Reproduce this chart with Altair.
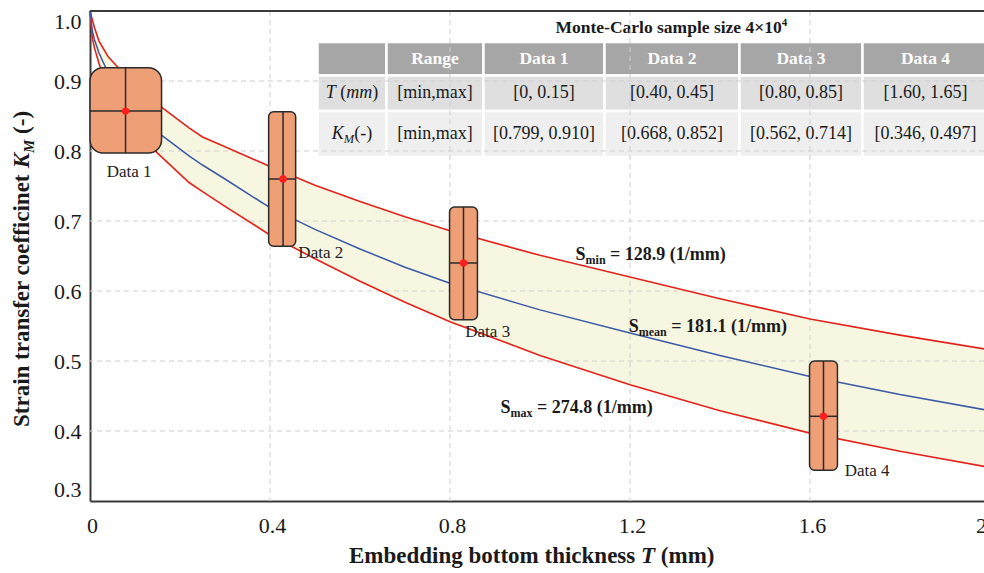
import altair as alt
import pandas as pd

# ---------------- data ----------------
T_grid = [0.0, 0.005, 0.01, 0.02, 0.04, 0.07, 0.10, 0.15, 0.22, 0.25, 0.30, 0.40,
          0.50, 0.60, 0.70, 0.80, 1.00, 1.20, 1.40, 1.60, 1.80, 2.00]
K_smin = [1.000, 0.988, 0.976, 0.957, 0.935, 0.914, 0.897, 0.867, 0.833, 0.820, 0.806, 0.778,
          0.751, 0.728, 0.706, 0.686, 0.651, 0.620, 0.589, 0.560, 0.537, 0.516]
K_smean = [1.000, 0.972, 0.959, 0.940, 0.912, 0.880, 0.856, 0.827, 0.793, 0.780, 0.760, 0.719,
           0.688, 0.660, 0.634, 0.611, 0.573, 0.540, 0.508, 0.478, 0.452, 0.429]
K_smax = [1.000, 0.962, 0.947, 0.925, 0.890, 0.856, 0.831, 0.797, 0.755, 0.742, 0.721, 0.680,
          0.646, 0.614, 0.584, 0.556, 0.508, 0.466, 0.429, 0.397, 0.371, 0.348]

box_names = ["Data 1", "Data 2", "Data 3", "Data 4"]
box_t_lo = [0.000, 0.397, 0.799, 1.599]
box_t_hi = [0.159, 0.457, 0.861, 1.661]
box_k_lo = [0.797, 0.664, 0.559, 0.344]
box_k_hi = [0.919, 0.856, 0.720, 0.500]
box_t_mid = [0.079, 0.429, 0.830, 1.630]
box_k_mid = [0.857, 0.760, 0.640, 0.421]
box_label_t = [0.037, 0.463, 0.834, 1.677]
box_label_k = [0.763, 0.647, 0.534, 0.336]

curve_label_t = [1.079, 1.197, 0.912]
curve_label_k = [0.644, 0.541, 0.426]
curve_label_sub = ["min", "mean", "max"]
curve_label_val = [" = 128.9 (1/mm)", " = 181.1 (1/mm)", " = 274.8 (1/mm)"]

x_ticks = [0, 0.4, 0.8, 1.2, 1.6]
y_ticks = [0.3, 0.4, 0.5, 0.6, 0.7, 0.8, 0.9, 1.0]
grid_x = [0.4, 0.8, 1.2, 1.6]
grid_y = [0.4, 0.5, 0.6, 0.7, 0.8, 0.9]

table_title = "Monte-Carlo sample size 4×10"
table_title_sup = "4"
table_header = ["", "Range", "Data 1", "Data 2", "Data 3", "Data 4"]
table_row_T = ["", "[min,max]", "[0, 0.15]", "[0.40, 0.45]", "[0.80, 0.85]", "[1.60, 1.65]"]
table_row_K = ["", "[min,max]", "[0.799, 0.910]", "[0.668, 0.852]", "[0.562, 0.714]", "[0.346, 0.497]"]

# ---------------- layout / style ----------------
FONT = "Liberation Serif"
RED = "#e3231c"
BLUE = "#3b5aa6"
FILL = "#f7f7e1"
BOX = "#ee9f76"
INK = "#1a1a1a"
PXU = 450.0  # pixels per unit of T (x range 900 px for 0..2)

tbl_col_edges = [0.5056, 0.6589, 0.8744, 1.1433, 1.4433, 1.7167, 1.9967]
tbl_row_edges = [0.9557, 0.9079, 0.8571, 0.7914]
tbl_row_fill = ["#a6a6a6", "#dfdfdf", "#efefef"]

xs = alt.Scale(domain=[0, 2], range=[0, 900], nice=False, zero=False)
ys = alt.Scale(domain=[0.3, 1.0], nice=False, zero=False)

x_axis = alt.Axis(values=x_ticks, labelExpr="datum.value == 0 ? '0' : format(datum.value, '.1f')",
                  grid=False, ticks=False, domainColor="#3a3a3a", domainWidth=2,
                  labelFont=FONT, labelFontSize=22, labelColor=INK, labelPadding=14.5,
                  labelFlush=False, labelOffset=2, labelOverlap=False, title="")
y_axis = alt.Axis(values=y_ticks, format=".1f", grid=False, ticks=False, domainColor="#3a3a3a",
                  domainWidth=2, labelFont=FONT, labelFontSize=22, labelColor=INK, labelPadding=9,
                  labelFlush=True, labelOverlap=False, title="")

W_REG = {' ': 250, '(': 333, ')': 333, '-': 333, '.': 250, ',': 250, '/': 278, '[': 333, ']': 333,
         '=': 564, 'D': 722, 'a': 444, 't': 278, 'm': 778, 'i': 278, 'n': 500, 'x': 500}
W_BOLD = {' ': 250, '(': 333, ')': 333, '-': 333, '.': 250, ',': 250, '/': 278, '=': 570, '×': 570,
          'C': 722, 'D': 722, 'E': 667, 'K': 778, 'M': 944, 'R': 722, 'S': 556, 'T': 667,
          'a': 500, 'b': 556, 'c': 444, 'd': 556, 'e': 444, 'f': 333, 'g': 500, 'h': 556, 'i': 278,
          'k': 556, 'l': 278, 'm': 833, 'n': 556, 'o': 500, 'p': 556, 'r': 444, 's': 389, 't': 333,
          'x': 500, 'z': 444}
W_ITAL = {'T': 556, 'K': 667, 'M': 833, 'm': 722}
W_BOLDITAL = {'T': 611, 'K': 667, 'M': 889}
TABLES = {"reg": W_REG, "bold": W_BOLD, "ital": W_ITAL, "boldital": W_BOLDITAL}


def tw(s, kind, size):
    tab = TABLES[kind]
    return sum(tab.get(ch, 500) for ch in s) * size / 1000.0


def style_kw(kind):
    kw = {}
    if "bold" in kind:
        kw["fontWeight"] = "bold"
    if "ital" in kind:
        kw["fontStyle"] = "italic"
    return kw


def XQ(f):
    return alt.X(f"{f}:Q", scale=xs, axis=x_axis)


def YQ(f):
    return alt.Y(f"{f}:Q", scale=ys, axis=y_axis)


def parts_width(parts):
    return sum(tw(p[0], p[1], p[2]) for p in parts)


def rich(parts, t, k, dx0=0.0, baseline="alphabetic"):
    out = []
    off = dx0
    df = pd.DataFrame({"T": [t], "K": [k]})
    for txt, kind, size, dy, color in parts:
        lead = len(txt) - len(txt.lstrip(" "))
        off += tw(" " * lead, kind, size)
        core = txt.strip(" ")
        kw = dict(text=core, align="left", baseline=baseline, dx=off, font=FONT,
                  fontSize=size, color=color)
        kw.update(style_kw(kind))
        if dy:
            kw["dy"] = dy
        out.append(alt.Chart(df).mark_text(**kw).encode(x=XQ("T"), y=YQ("K")))
        off += tw(txt.lstrip(" "), kind, size)
    return out


def rich_px(parts, x0, y0, angle=0):
    out = []
    off = 0.0
    one = pd.DataFrame({"d": [0]})
    for txt, kind, size, shift, color in parts:
        lead = len(txt) - len(txt.lstrip(" "))
        off += tw(" " * lead, kind, size)
        core = txt.strip(" ")
        kw = dict(text=core, align="left", baseline="alphabetic", font=FONT,
                  fontSize=size, color=color)
        kw.update(style_kw(kind))
        if angle:
            kw["angle"] = angle
            px, py = x0 + shift, y0 - off
        else:
            px, py = x0 + off, y0 + shift
        out.append(alt.Chart(one).mark_text(**kw).encode(x=alt.value(px), y=alt.value(py)))
        off += tw(txt.lstrip(" "), kind, size)
    return out


layers = []

# ---- table ----
cells = []
rows = [table_header, table_row_T, table_row_K]
for r in range(3):
    for c in range(6):
        cells.append({
            "x": tbl_col_edges[c], "x2": tbl_col_edges[c + 1],
            "y": tbl_row_edges[r + 1], "y2": tbl_row_edges[r],
            "fill": tbl_row_fill[r],
            "tx": (tbl_col_edges[c] + tbl_col_edges[c + 1]) / 2,
            "ty": (tbl_row_edges[r] + tbl_row_edges[r + 1]) / 2,
            "text": rows[r][c], "row": r,
        })
cells_df = pd.DataFrame(cells)
layers.append(alt.Chart(cells_df).mark_rect(stroke="white", strokeWidth=2.5).encode(
    x=XQ("x"), x2="x2:Q", y=YQ("y"), y2="y2:Q",
    color=alt.Color("fill:N", scale=None)))
hdr = cells_df[(cells_df.row == 0) & (cells_df.text != "")]
body = cells_df[(cells_df.row > 0) & (cells_df.text != "")]
layers.append(alt.Chart(hdr).mark_text(font=FONT, fontSize=17.5, fontWeight="bold", color="white",
                                       baseline="middle").encode(x=XQ("tx"), y=YQ("ty"), text="text:N"))
layers.append(alt.Chart(body).mark_text(font=FONT, fontSize=18, color=INK,
                                        baseline="middle").encode(x=XQ("tx"), y=YQ("ty"), text="text:N"))
col0_w = (tbl_col_edges[1] - tbl_col_edges[0]) * PXU
p_T = [("T", "ital", 18, 0, INK), (" (", "reg", 18, 0, INK), ("mm", "ital", 18, 0, INK), (")", "reg", 18, 0, INK)]
p_K = [("K", "ital", 18, 0, INK), ("M", "ital", 12.5, 5, INK), ("(-)", "reg", 18, 0, INK)]
layers += rich(p_T, tbl_col_edges[0], (tbl_row_edges[1] + tbl_row_edges[2]) / 2,
               dx0=(col0_w - parts_width(p_T)) / 2, baseline="middle")
layers += rich(p_K, tbl_col_edges[0], (tbl_row_edges[2] + tbl_row_edges[3]) / 2,
               dx0=(col0_w - parts_width(p_K)) / 2, baseline="middle")
layers += rich([(table_title, "bold", 17.5, 0, INK), (table_title_sup, "bold", 11, -7, INK)],
               1.0344, 0.9686)

# ---- band fill ----
curves = pd.DataFrame({"T": T_grid, "smin": K_smin, "smean": K_smean, "smax": K_smax})
layers.append(alt.Chart(curves).mark_area(color=FILL, opacity=1).encode(
    x=XQ("T"), y=YQ("smax"), y2="smin:Q"))

# ---- grid (dashed) ----
layers.append(alt.Chart(pd.DataFrame({"g": grid_x})).mark_rule(
    color="#cfcfcf", strokeDash=[5, 4], strokeWidth=1).encode(x=XQ("g")))
layers.append(alt.Chart(pd.DataFrame({"g": grid_y})).mark_rule(
    color="#cfcfcf", strokeDash=[5, 4], strokeWidth=1).encode(y=YQ("g")))

# ---- curves ----
layers.append(alt.Chart(curves).mark_line(color=RED, strokeWidth=1.6).encode(x=XQ("T"), y=YQ("smin")))
layers.append(alt.Chart(curves).mark_line(color=RED, strokeWidth=1.6).encode(x=XQ("T"), y=YQ("smax")))
layers.append(alt.Chart(curves).mark_line(color=BLUE, strokeWidth=1.5).encode(x=XQ("T"), y=YQ("smean")))

# ---- boxes ----
boxes = pd.DataFrame({"name": box_names, "tlo": box_t_lo, "thi": box_t_hi, "klo": box_k_lo,
                      "khi": box_k_hi, "tmid": box_t_mid, "kmid": box_k_mid,
                      "lt": box_label_t, "lk": box_label_k})
b1 = boxes.iloc[:1]
b2 = boxes.iloc[1:]
layers.append(alt.Chart(b1).mark_rect(color=BOX, stroke="#2a2a2a", strokeWidth=1.5, cornerRadius=13).encode(
    x=XQ("tlo"), x2="thi:Q", y=YQ("klo"), y2="khi:Q"))
layers.append(alt.Chart(b2).mark_rect(color=BOX, stroke="#2a2a2a", strokeWidth=1.5, cornerRadius=5).encode(
    x=XQ("tlo"), x2="thi:Q", y=YQ("klo"), y2="khi:Q"))
layers.append(alt.Chart(boxes).mark_rule(color="#2a2a2a", strokeWidth=1.5).encode(
    x=XQ("tmid"), y=YQ("klo"), y2="khi:Q"))
layers.append(alt.Chart(boxes).mark_rule(color="#2a2a2a", strokeWidth=1.5).encode(
    x=XQ("tlo"), x2="thi:Q", y=YQ("kmid")))
layers.append(alt.Chart(boxes).mark_circle(color="#ff1f1f", size=55, opacity=1).encode(
    x=XQ("tmid"), y=YQ("kmid")))
layers.append(alt.Chart(boxes).mark_text(font=FONT, fontSize=17, color="#222", align="left",
                                         baseline="alphabetic").encode(
    x=XQ("lt"), y=YQ("lk"), text="name:N"))

# ---- curve labels ----
for t, k, sub, val in zip(curve_label_t, curve_label_k, curve_label_sub, curve_label_val):
    layers += rich([("S", "bold", 18, 0, INK), (sub, "bold", 12, 4, INK), (val, "bold", 18, 0, INK)], t, k)

# ---- frame top line and the cut-off "2" label ----
one = pd.DataFrame({"a": [0.0], "b": [2.0], "top": [1.0], "bot": [0.3], "lab": ["2"]})
layers.append(alt.Chart(one).mark_rule(color="#3a3a3a", strokeWidth=2).encode(
    x=XQ("a"), x2="b:Q", y=YQ("top")))
layers.append(alt.Chart(one).mark_text(font=FONT, fontSize=22, color=INK, align="right",
                                       baseline="top", dx=-3, dy=14.5).encode(
    x=XQ("b"), y=YQ("bot"), text="lab:N"))

# ---- axis titles (rich text) ----
layers += rich_px([("Embedding bottom thickness ", "bold", 23, 0, INK), ("T", "boldital", 23, 0, INK),
                   (" (mm)", "bold", 23, 0, INK)], 259, 552)
layers += rich_px([("Strain transfer coefficinet ", "bold", 23, 0, INK), ("K", "boldital", 23, 0, INK),
                   ("M", "boldital", 15, 5, INK), (" (-)", "bold", 23, 0, INK)], -61, 416, angle=270)

chart = alt.layer(*layers).properties(
    width=894, height=490,
    padding={"left": 90, "top": 11, "right": 0, "bottom": 72},
    autosize=alt.AutoSizeParams(type="none"),
).configure_view(stroke="transparent")

chart.save("out.html", embed_options={"renderer": "svg", "actions": False})
